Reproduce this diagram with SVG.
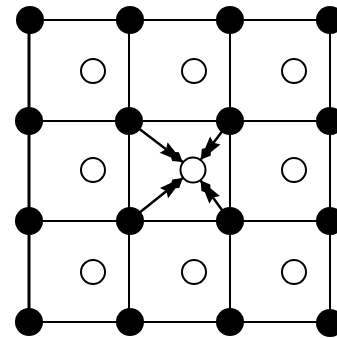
<svg xmlns="http://www.w3.org/2000/svg" width="337" height="338" viewBox="0 0 337 338">
<style>
.grid{stroke:#000;stroke-width:2;fill:none}
.dot{fill:#000}
.open{fill:#fff;stroke:#000;stroke-width:2}
.arr{stroke:#000;stroke-width:2.5;fill:none}
</style>
<defs>
<marker id="ah" markerUnits="userSpaceOnUse" markerWidth="30" markerHeight="16" viewBox="-26 -8 30 16" refX="0" refY="0" orient="auto">
<path d="M0,0 L-9,-5.5 L-12,-3.5 L-24,-6.5 L-21,0 L-24,6.5 L-12,3.5 L-9,5.5 Z" fill="#000"/>
</marker>
</defs>
<rect width="337" height="338" fill="#fff"/>
<g id="grid">
<line class="grid" x1="29" y1="20" x2="337" y2="20"/>
<line class="grid" x1="29" y1="121" x2="337" y2="121"/>
<line class="grid" x1="29" y1="221" x2="337" y2="221"/>
<line class="grid" x1="29" y1="322" x2="337" y2="322"/>
<line class="grid" x1="29" y1="20" x2="29" y2="322" style="stroke-width:3"/>
<line class="grid" x1="129" y1="20" x2="129" y2="322"/>
<line class="grid" x1="230" y1="20" x2="230" y2="322"/>
<line class="grid" x1="330" y1="20" x2="330" y2="322"/>
</g>
<g id="connectors">
<line class="arr" x1="129" y1="121" x2="182.7" y2="162.1" marker-end="url(#ah)"/>
<line class="arr" x1="230" y1="121" x2="200.8" y2="159.6" marker-end="url(#ah)"/>
<line class="arr" x1="129" y1="221" x2="182.8" y2="178.1" marker-end="url(#ah)"/>
<line class="arr" x1="230" y1="221" x2="200.6" y2="180.5" marker-end="url(#ah)"/>
</g>
<g id="black-dots">
<circle class="dot" cx="30" cy="20" r="14"/>
<circle class="dot" cx="130" cy="20" r="14"/>
<circle class="dot" cx="230" cy="20" r="14"/>
<circle class="dot" cx="330" cy="20" r="14"/>
<circle class="dot" cx="29" cy="121" r="14"/>
<circle class="dot" cx="129" cy="121" r="14"/>
<circle class="dot" cx="230" cy="121" r="14"/>
<circle class="dot" cx="330" cy="121" r="14"/>
<circle class="dot" cx="29" cy="221" r="14"/>
<circle class="dot" cx="130" cy="221" r="14"/>
<circle class="dot" cx="230" cy="221" r="14"/>
<circle class="dot" cx="330" cy="221" r="14"/>
<circle class="dot" cx="29" cy="322" r="14"/>
<circle class="dot" cx="130" cy="322" r="14"/>
<circle class="dot" cx="230" cy="322" r="14"/>
<circle class="dot" cx="330" cy="323" r="14"/>
</g>
<g id="open-dots">
<circle class="open" cx="93" cy="71" r="12"/>
<circle class="open" cx="194" cy="71" r="12"/>
<circle class="open" cx="294" cy="71" r="12"/>
<circle class="open" cx="93" cy="170" r="12"/>
<circle class="open" cx="294" cy="170" r="12"/>
<circle class="open" cx="93" cy="272" r="12"/>
<circle class="open" cx="194" cy="272" r="12"/>
<circle class="open" cx="294" cy="272" r="12"/>
</g>
<g id="center">
<circle class="open" cx="193" cy="170" r="12.5"/>
</g>
</svg>
